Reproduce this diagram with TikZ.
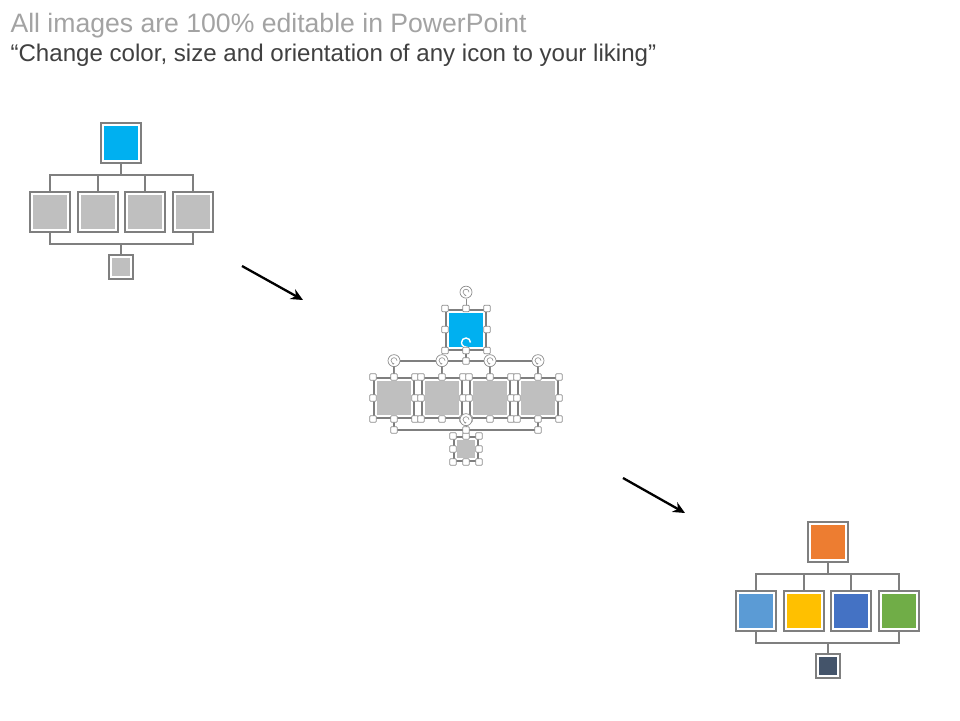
\documentclass[tikz,border=0pt]{standalone}
\usepackage{fontspec}
\setmainfont{Liberation Sans}
\usetikzlibrary{arrows.meta,positioning}

\definecolor{wiregray}{HTML}{7F7F7F}
\definecolor{boxgray}{HTML}{BFBFBF}
\definecolor{gripgray}{HTML}{8C8C8C}
\definecolor{skyblue}{HTML}{00B0F0}
\definecolor{accorange}{HTML}{ED7D31}
\definecolor{acclight}{HTML}{5B9BD5}
\definecolor{accyellow}{HTML}{FFC000}
\definecolor{accblue}{HTML}{4472C4}
\definecolor{accgreen}{HTML}{70AD47}
\definecolor{accnavy}{HTML}{44546A}

\tikzset{
    unit/.style={draw=wiregray, line width=2pt, fill=white, minimum size=40pt, inner sep=0pt,
        path picture={\fill[#1] ([shift={(3pt,3pt)}]path picture bounding box.south west)
            rectangle ([shift={(-3pt,-3pt)}]path picture bounding box.north east);}},
    leaf/.style={unit=#1, minimum size=24pt},
    wire/.style={draw=wiregray, line width=2pt},
    grip/.style={draw=gripgray, fill=white, line width=0.7pt, minimum size=6.5pt, inner sep=0pt, rounded corners=0.8pt},
    turn/.style={circle, draw=gripgray, fill=white, line width=0.7pt, minimum size=12pt, inner sep=0pt,
        path picture={\draw[gripgray, line width=0.6pt, -{Stealth[length=2pt]}]
            ([xshift=3pt]path picture bounding box.center) arc[start angle=0, end angle=280, radius=3pt];}},
    pointer/.style={line width=2.3pt, -{Stealth[length=12pt, width=11pt]}},
}

\begin{document}
\begin{tikzpicture}[x=1pt, y=-1pt]
        \fill[white] (0,0) rectangle (960,720);
        \useasboundingbox (0,0) rectangle (960,720);

        \node[anchor=base west, text=black!36, font=\fontsize{26.6}{30}\selectfont] (title) at (7,32.5)
            {All images are 100\% editable in PowerPoint};
        \node[anchor=base west, text=black!75, font=\fontsize{24.1}{28}\selectfont] (subtitle) at (7,61.5)
            {“Change color, size and orientation of any icon to your liking”};

        % first chart
        \node[unit=skyblue] (a-top) at (121.3,143) {};
        \node[unit=boxgray] (a-c1) at (50,212) {};
        \node[unit=boxgray] (a-c2) at (97.5,212) {};
        \node[unit=boxgray] (a-c3) at (145,212) {};
        \node[unit=boxgray] (a-c4) at (192.5,212) {};
        \node[leaf=boxgray] (a-leaf) at (121.3,266.7) {};

        \draw[wire] (a-top.south) -- ++(0,11.3) coordinate (a-hub);
        \draw[wire] (a-c1.north) |- (a-hub) -| (a-c4.north);
        \draw[wire] (a-c2.north) -- (a-c2 |- a-hub);
        \draw[wire] (a-c3.north) -- (a-c3 |- a-hub);
        \draw[wire] (a-leaf.north) -- ++(0,-10) coordinate (a-foot);
        \draw[wire] (a-c1.south) |- (a-foot) -| (a-c4.south);

        % second chart, selected
        \node[unit=skyblue] (b-top) at (466,329.5) {};
        \node[unit=boxgray] (b-c1) at (394,398) {};
        \node[unit=boxgray] (b-c2) at (442,398) {};
        \node[unit=boxgray] (b-c3) at (490,398) {};
        \node[unit=boxgray] (b-c4) at (538,398) {};
        \node[leaf=boxgray] (b-leaf) at (466,449) {};

        \draw[wire] (b-top.south) -- ++(0,10.5) coordinate (b-hub);
        \draw[wire] (b-c1.north) |- (b-hub) -| (b-c4.north);
        \draw[wire] (b-c2.north) -- (b-c2 |- b-hub);
        \draw[wire] (b-c3.north) -- (b-c3 |- b-hub);
        \draw[wire] (b-leaf.north) -- ++(0,-6) coordinate (b-foot);
        \draw[wire] (b-c1.south) |- (b-foot) -| (b-c4.south);

        \draw[white, line width=1.4pt, -{Stealth[length=3.5pt, width=4pt]}]
            ([shift={(4.5pt,-13pt)}]b-top.center) arc[start angle=0, end angle=290, radius=4.5pt];

        \foreach \n in {b-top,b-c1,b-c2,b-c3,b-c4,b-leaf} {
            \node[turn, above=10pt of \n] (\n-turn) {};
            \draw[gripgray, line width=0.7pt] (\n-turn) -- (\n.north);
            \foreach \a in {north west,north,north east,east,south east,south,south west,west}
                \node[grip] (\n-\a) at (\n.\a) {};
        }
        \node[grip] (b-hub-grip) at (b-hub) {};
        \node[grip] (b-foot-grip) at (b-foot) {};
        \node[grip] (b-foot-l) at (b-c1 |- b-foot) {};
        \node[grip] (b-foot-r) at (b-c4 |- b-foot) {};

        % third chart
        \node[unit=accorange] (c-top) at (827.7,541.7) {};
        \node[unit=acclight] (c-c1) at (756,611) {};
        \node[unit=accyellow] (c-c2) at (803.5,611) {};
        \node[unit=accblue] (c-c3) at (851,611) {};
        \node[unit=accgreen] (c-c4) at (899,611) {};
        \node[leaf=accnavy] (c-leaf) at (827.7,665.5) {};

        \draw[wire] (c-top.south) -- ++(0,11) coordinate (c-hub);
        \draw[wire] (c-c1.north) |- (c-hub) -| (c-c4.north);
        \draw[wire] (c-c2.north) -- (c-c2 |- c-hub);
        \draw[wire] (c-c3.north) -- (c-c3 |- c-hub);
        \draw[wire] (c-leaf.north) -- ++(0,-10) coordinate (c-foot);
        \draw[wire] (c-c1.south) |- (c-foot) -| (c-c4.south);

        % arrows between the charts
        \coordinate (step1-from) at (242,266);
        \coordinate (step1-to) at (303,300);
        \coordinate (step2-from) at (623,478);
        \coordinate (step2-to) at (685,513);
        \draw[pointer] (step1-from) -- (step1-to);
        \draw[pointer] (step2-from) -- (step2-to);
\end{tikzpicture}
\end{document}
